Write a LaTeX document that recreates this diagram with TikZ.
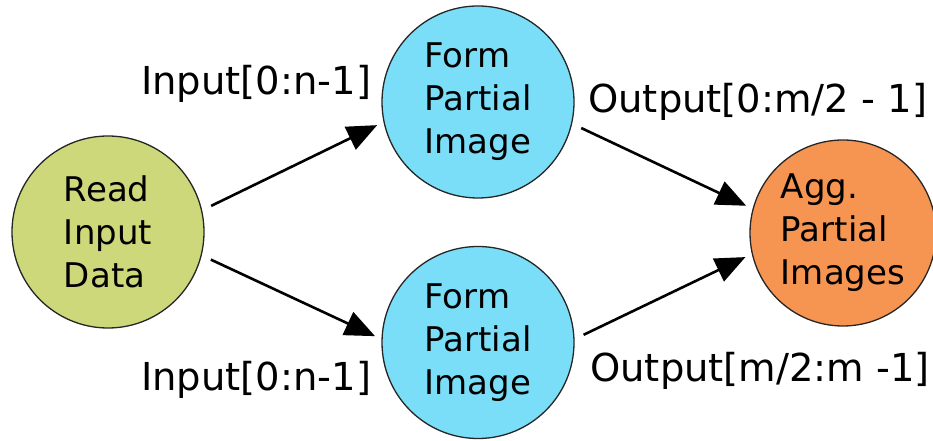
\documentclass[tikz,border=0pt]{standalone}
\usepackage{fontspec}
\setmainfont{DejaVu Sans}
\usetikzlibrary{arrows.meta}

\definecolor{readgreen}{RGB}{204,216,122}
\definecolor{formblue}{RGB}{122,222,248}
\definecolor{aggorange}{RGB}{246,148,82}

\begin{document}
\begin{tikzpicture}[x=1pt, y=1pt,
    stage/.style={circle, draw=black!85, line width=1.3pt, minimum size=192pt, inner sep=0pt, align=left, font=\fontsize{34}{43}\selectfont},
    flow/.style={line width=2.6pt, -{Triangle[length=30pt,width=25pt]}, shorten <=10pt, shorten >=7pt},
    tag/.style={anchor=base west, inner sep=0pt, font=\fontsize{38.5}{43}\selectfont}
]
\useasboundingbox (0,0) rectangle (933,441);

% Stages
\node[stage, fill=readgreen] (read) at (108,209) {Read\\Input\\Data};
\node[stage, fill=formblue] (formA) at (478,339) {Form\\Partial\\Image};
\node[stage, fill=formblue] (formB) at (478,98.5) {Form\\Partial\\Image};
\node[stage, fill=aggorange, minimum size=186pt] (agg) at (843,208) {Agg.\\Partial\\Images};

% Data flow
\draw[flow] (read.13.6) -- (formA.192.3);
\draw[flow] (read.346.4) -- (formB.178.6);
\draw[flow] (formA.347.5) -- (agg.165);
\draw[flow] (formB.2.5) -- (agg.193.8);

% Edge labels
\node[tag] (inA) at (141,346) {Input[0:n-1]};
\node[tag] (inB) at (141,50) {Input[0:n-1]};
\node[tag] (outA) at (588,328) {Output[0:m/2 - 1]};
\node[tag] (outB) at (590,59) {Output[m/2:m -1]};
\end{tikzpicture}
\end{document}
